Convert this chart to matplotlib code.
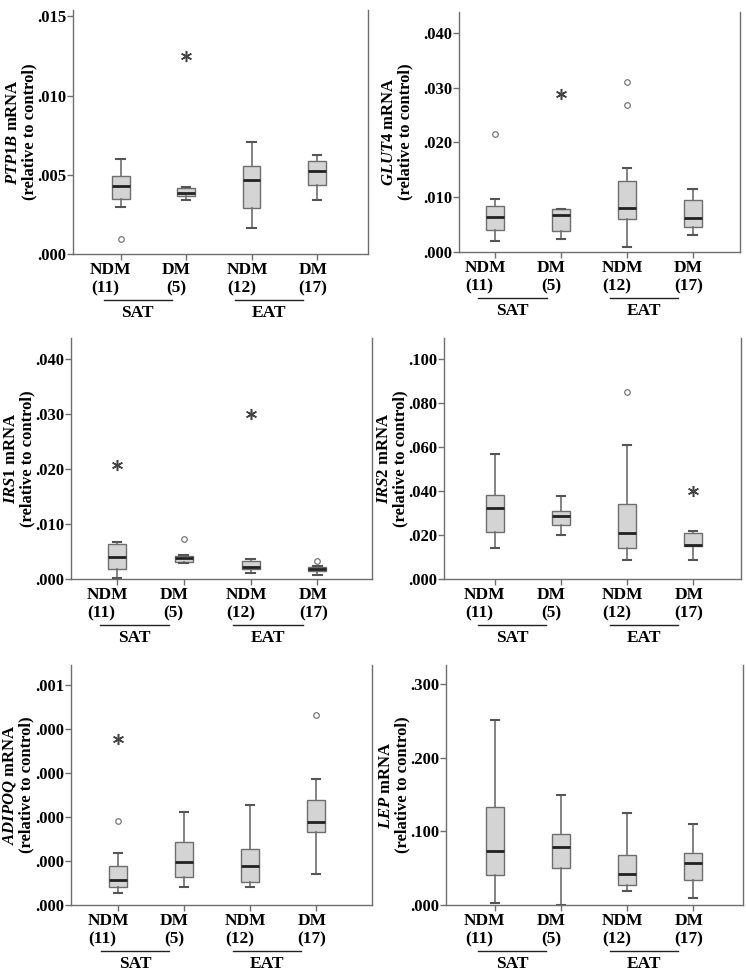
import matplotlib
matplotlib.use("Agg")
import matplotlib.pyplot as plt

plt.rcParams['font.family'] = ['Liberation Serif', 'DejaVu Serif']
plt.rcParams['font.weight'] = 'bold'
plt.rcParams['mathtext.fontset'] = 'custom'
plt.rcParams['mathtext.it'] = 'Liberation Serif:italic:bold'
plt.rcParams['mathtext.rm'] = 'Liberation Serif:bold'

# groups
groups = ['NDM', 'DM', 'NDM', 'DM']
counts = ['(11)', '(5)', '(12)', '(17)']
tissues = ['SAT', 'EAT']

# five-number summaries per group: [whisker low, q1, median, q3, whisker high]
ptp1b_stats = [[0.00297, 0.00347, 0.00428, 0.00492, 0.00602],
               [0.00343, 0.00369, 0.00386, 0.00417, 0.00420],
               [0.00163, 0.00292, 0.00466, 0.00555, 0.00708],
               [0.00343, 0.00436, 0.00521, 0.00589, 0.00623]]
ptp1b_out = [[0.00095], [], [], []]
ptp1b_ext = [[], [0.0125], [], []]

glut4_stats = [[0.00206, 0.00406, 0.00636, 0.00848, 0.00976],
               [0.00240, 0.00387, 0.00678, 0.00787, 0.00790],
               [0.00090, 0.00600, 0.00806, 0.01290, 0.01530],
               [0.00310, 0.00448, 0.00620, 0.00950, 0.01158]]
glut4_out = [[0.0215], [], [0.0310, 0.0268], []]
glut4_ext = [[], [0.0289], [], []]

irs1_stats = [[0.0002, 0.00188, 0.00394, 0.00636, 0.00673],
              [0.0029, 0.0031, 0.0038, 0.0041, 0.0043],
              [0.0011, 0.0019, 0.0021, 0.0032, 0.0036],
              [0.0008, 0.0015, 0.0018, 0.0021, 0.0023]]
irs1_out = [[], [0.0073], [], [0.0032]]
irs1_ext = [[0.0207], [], [0.0299], []]

irs2_stats = [[0.0139, 0.0212, 0.0323, 0.0380, 0.0567],
              [0.0198, 0.0245, 0.0286, 0.0311, 0.0376],
              [0.0088, 0.0141, 0.0209, 0.0341, 0.0609],
              [0.0088, 0.0152, 0.0155, 0.0208, 0.0217]]
irs2_out = [[], [], [0.0848], []]
irs2_ext = [[], [], [], [0.0402]]

adipoq_stats = [[0.0000273, 0.0000417, 0.0000576, 0.0000886, 0.000119],
                [0.0000400, 0.0000636, 0.0000985, 0.000142, 0.000211],
                [0.0000400, 0.0000523, 0.0000894, 0.000127, 0.000227],
                [0.0000712, 0.000166, 0.000189, 0.000239, 0.000285]]
adipoq_out = [[0.00019], [], [], [0.000431]]
adipoq_ext = [[0.000377], [], [], []]

lep_stats = [[0.0027, 0.0403, 0.0733, 0.1326, 0.2516],
             [0.0005, 0.0498, 0.0783, 0.0968, 0.1498],
             [0.0195, 0.0276, 0.0421, 0.0674, 0.1253],
             [0.0090, 0.0339, 0.0570, 0.0701, 0.1100]]
lep_out = [[], [], [], []]
lep_ext = [[], [], [], []]

# y ticks and labels
ptp1b_ticks = [0, 0.005, 0.010, 0.015]
glut4_ticks = [0, 0.010, 0.020, 0.030, 0.040]
irs1_ticks = [0, 0.010, 0.020, 0.030, 0.040]
irs2_ticks = [0, 0.020, 0.040, 0.060, 0.080, 0.100]
adipoq_ticks = [0, 0.0001, 0.0002, 0.0003, 0.0004, 0.0005]
adipoq_ticklabels = ['.000', '.000', '.000', '.000', '.000', '.001']
lep_ticks = [0, 0.100, 0.200, 0.300]

panels = [
    ('PTP1B', ptp1b_stats, ptp1b_out, ptp1b_ext, ptp1b_ticks, None, 0.0154, (73, 368, 10, 254), (0.27, 4.78), 52),
    ('GLUT4', glut4_stats, glut4_out, glut4_ext, glut4_ticks, None, 0.0438, (459, 740, 12, 252), (0.45, 4.72), 62),
    ('IRS1', irs1_stats, irs1_out, irs1_ext, irs1_ticks, None, 0.0438, (71, 372, 338, 579), (0.31, 4.82), 52),
    ('IRS2', irs2_stats, irs2_out, irs2_ext, irs2_ticks, None, 0.1095, (444, 741, 338, 579), (0.23, 4.73), 52),
    ('ADIPOQ', adipoq_stats, adipoq_out, adipoq_ext, adipoq_ticks, adipoq_ticklabels, 0.000545, (71, 372, 665, 905), (0.29, 4.85), 53),
    ('LEP', lep_stats, lep_out, lep_ext, lep_ticks, None, 0.326, (446, 743, 665, 905), (0.26, 4.76), 52),
]

W, H = 746, 974
fig = plt.figure(figsize=(W / 100, H / 100), dpi=100)

edge = '#6e6e6e'
fs = 12.5
for gene, stats, outs, exts, ticks, tlabels, ytop, box, xl, lab_dx in panels:
    l, r, t, b = box
    ax = fig.add_axes([l / W, 1 - b / H, (r - l) / W, (b - t) / H])
    pos = [1, 2, 3, 4]
    bxp_stats = []
    for s, o in zip(stats, outs):
        bxp_stats.append(dict(whislo=s[0], q1=s[1], med=s[2], q3=s[3], whishi=s[4], fliers=o))
    ax.bxp(bxp_stats, positions=pos, widths=0.27, capwidths=0.13, patch_artist=True,
           boxprops=dict(facecolor='#d4d4d4', edgecolor=edge, linewidth=1),
           whiskerprops=dict(color=edge, linewidth=1.2),
           capprops=dict(color='#555555', linewidth=1.5),
           medianprops=dict(color='#222222', linewidth=2),
           flierprops=dict(marker='o', markersize=4, markerfacecolor='white',
                           markeredgecolor='#777777', markeredgewidth=0.9))
    for p, e in zip(pos, exts):
        if e:
            ax.plot([p] * len(e), e, linestyle='none', marker=(6, 2, 0), markersize=8,
                    color='#444444', markeredgewidth=1.1)

    ax.set_xlim(*xl)
    ax.set_ylim(0, ytop)
    ax.set_yticks(ticks)
    if tlabels is None:
        tlabels = [('%.3f' % v)[1:] for v in ticks]
    ax.set_yticklabels(tlabels, fontsize=12, fontweight='bold')
    ax.set_xticks(pos)
    ax.set_xticklabels([])
    ax.tick_params(axis='both', length=4, width=1, color=edge, pad=1)
    for side in ['left', 'right', 'bottom']:
        ax.spines[side].set_color(edge)
        ax.spines[side].set_linewidth(1)
    ax.spines['top'].set_visible(False)

    ah = b - t
    # category labels
    for i, (g, c) in enumerate(zip(groups, counts)):
        off = -0.15 if i < 2 else -0.06
        ax.text(pos[i] + off, -16 / ah, g, transform=ax.get_xaxis_transform(),
                ha='center', va='center', fontsize=fs, fontweight='bold')
        cx = pos[i] + off - (0.09 if g == 'NDM' else 0)
        ax.text(cx, -34 / ah, c, transform=ax.get_xaxis_transform(),
                ha='center', va='center', fontsize=fs, fontweight='bold')
    # tissue groups
    for k, name in enumerate(tissues):
        gc = 1.5 + 2 * k - 0.24
        ax.plot([gc - 0.52, gc + 0.52], [-46 / ah, -46 / ah], color='#222222', linewidth=1,
                transform=ax.get_xaxis_transform(), clip_on=False)
        ax.text(gc, -59 / ah, name, transform=ax.get_xaxis_transform(),
                ha='center', va='center', fontsize=fs, fontweight='bold')

    ax.text(-lab_dx / (r - l), 0.5, '$\\mathit{%s}$ mRNA\n(relative to control)' % gene,
            transform=ax.transAxes, rotation=90, ha='center', va='center',
            fontsize=12, fontweight='bold', linespacing=1.05)

fig.savefig('out.png', dpi=100, facecolor='white')
